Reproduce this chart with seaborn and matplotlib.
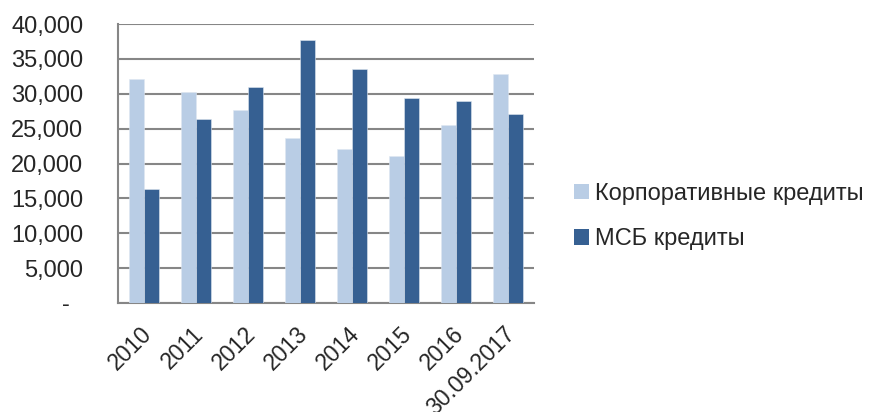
import matplotlib
matplotlib.use("Agg")
import matplotlib.pyplot as plt
import matplotlib.ticker as mticker
import matplotlib.transforms as mtransforms
from matplotlib.patches import Patch
import pandas as pd
import seaborn as sns

# data
periods = ["2010", "2011", "2012", "2013", "2014", "2015", "2016", "30.09.2017"]
corporate = [32050, 30200, 27600, 23700, 22050, 21100, 25450, 32800]
sme = [16300, 26400, 31000, 37700, 33500, 29400, 28900, 27100]
series_names = ["Корпоративные кредиты", "МСБ кредиты"]
colors = ["#B9CDE5", "#366092"]

df = pd.DataFrame({
    "period": periods * 2,
    "value": corporate + sme,
    "series": [series_names[0]] * len(periods) + [series_names[1]] * len(periods),
})

sns.set_style("white")
plt.rcParams["font.family"] = ["Liberation Sans", "DejaVu Sans"]

fig = plt.figure(figsize=(8.78, 4.12), dpi=100)
ax = fig.add_axes([0.1344, 0.2646, 0.608 - 0.1344, 0.9417 - 0.2646])

sns.barplot(data=df, x="period", y="value", hue="series", palette=colors,
            saturation=1, width=0.58, gap=0, ax=ax, legend=False, zorder=3,
            edgecolor="#dfe7f1", linewidth=0.4)

ax.set_ylim(0, 40000)
ax.set_xlim(-0.5, len(periods) - 0.5)
ax.yaxis.set_major_locator(mticker.MultipleLocator(5000))
# excel accounting style: zero shown as a dash
ax.yaxis.set_major_formatter(mticker.FuncFormatter(
    lambda v, p: "-  " if v == 0 else f"{v:,.0f}"))
ax.grid(axis="y", color="#868686", linewidth=1.5, zorder=0)
ax.set_axisbelow(True)

for s in ["top", "right"]:
    ax.spines[s].set_visible(False)
for s in ["left", "bottom"]:
    ax.spines[s].set_color("#868686")
    ax.spines[s].set_linewidth(1.5)

ax.set_xlabel("")
ax.set_ylabel("")
ax.tick_params(axis="y", length=0, pad=25, labelsize=17)
ax.tick_params(axis="x", length=0, pad=14, labelsize=16.5)
shift = mtransforms.ScaledTranslation(4 / 100, -8 / 100, fig.dpi_scale_trans)
for lab in ax.get_xticklabels():
    lab.set_rotation(45)
    lab.set_ha("right")
    lab.set_va("center")
    lab.set_rotation_mode("anchor")
    lab.set_transform(lab.get_transform() + shift)

handles = [Patch(facecolor=c, edgecolor="none") for c in colors]
ax.legend(handles, series_names, loc="center left", bbox_to_anchor=(1.075, 0.31),
          frameon=False, fontsize=17, handlelength=0.62, handleheight=0.62,
          handletextpad=0.25, labelspacing=1.0, borderaxespad=0)

fig.savefig("out.png", dpi=100)
